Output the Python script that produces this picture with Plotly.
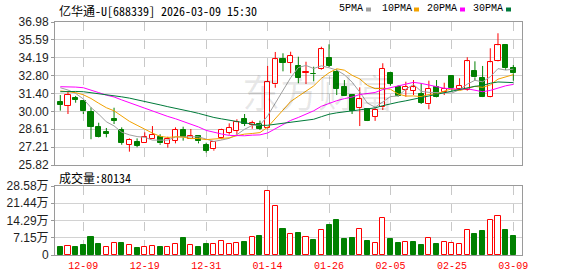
import plotly.graph_objects as go

# ---------------- data ----------------
dates = ["12-04", "12-05", "12-08", "12-09", "12-10", "12-11", "12-12", "12-15", "12-16", "12-17",
         "12-18", "12-19", "12-22", "12-23", "12-24", "12-25", "12-26", "12-29", "12-30", "12-31",
         "01-05", "01-06", "01-07", "01-08", "01-09", "01-12", "01-13", "01-14", "01-15", "01-16",
         "01-19", "01-20", "01-21", "01-22", "01-23", "01-26", "01-27", "01-28", "01-29", "01-30",
         "02-02", "02-03", "02-04", "02-05", "02-06", "02-09", "02-10", "02-11", "02-12", "02-13",
         "02-24", "02-25", "02-26", "02-27", "03-02", "03-03", "03-04", "03-05", "03-06", "03-09"]

opens = [30.76, 30.45, 31.07, 30.82, 29.98, 28.79, 28.42, 29.43, 28.55, 27.40,
         27.62, 27.51, 27.87, 27.98, 27.46, 27.72, 28.55, 27.87, 28.08, 27.36,
         27.05, 27.90, 28.34, 28.50, 29.43, 28.94, 29.04, 28.68, 32.12, 34.07,
         33.80, 33.55, 33.02, 32.95, 33.29, 34.15, 33.10, 31.88, 31.28, 30.25,
         30.17, 29.59, 30.32, 33.02, 31.88, 31.67, 31.62, 31.36, 30.56, 31.93,
         31.52, 32.77, 31.77, 31.67, 33.13, 32.59, 31.10, 33.91, 35.16, 33.37]
highs = [31.28, 31.54, 31.21, 30.89, 30.32, 29.12, 28.71, 30.29, 28.76, 27.90,
         27.90, 28.37, 28.86, 28.22, 28.03, 28.76, 28.81, 28.63, 28.14, 27.56,
         27.67, 28.65, 29.07, 29.39, 29.80, 29.28, 29.28, 33.55, 34.64, 34.54,
         34.66, 34.27, 33.88, 33.49, 35.05, 35.24, 33.29, 32.45, 31.36, 31.88,
         30.25, 30.25, 33.76, 33.10, 32.04, 32.32, 32.45, 32.20, 32.40, 32.45,
         32.24, 32.80, 32.59, 34.23, 33.91, 33.55, 34.93, 36.10, 35.26, 33.62]
lows = [30.06, 29.80, 30.68, 29.80, 27.83, 27.95, 27.98, 29.02, 27.40, 26.86,
        27.20, 27.51, 27.87, 27.40, 27.17, 27.51, 27.72, 27.87, 27.51, 26.78,
        26.94, 27.83, 28.19, 28.19, 28.86, 28.65, 28.55, 28.60, 31.85, 33.13,
        32.98, 32.20, 32.14, 32.35, 33.24, 33.47, 31.28, 31.20, 29.80, 28.86,
        29.25, 29.26, 30.11, 32.01, 31.15, 31.15, 31.28, 30.58, 30.17, 31.10,
        31.28, 31.54, 31.67, 31.62, 32.38, 31.12, 31.08, 33.88, 33.24, 32.40]
closes = [30.50, 31.28, 30.89, 30.00, 28.81, 27.98, 28.26, 29.28, 27.56, 27.77,
          27.33, 27.98, 28.16, 27.51, 27.83, 28.55, 27.98, 28.08, 27.67, 26.94,
          27.62, 28.55, 28.71, 29.15, 29.02, 29.12, 28.65, 32.30, 34.07, 33.80,
          34.33, 32.63, 33.10, 32.90, 34.85, 33.55, 31.75, 31.23, 30.06, 30.95,
          29.28, 30.11, 33.34, 32.14, 31.20, 31.93, 31.88, 30.68, 31.75, 31.15,
          31.75, 31.85, 31.99, 33.91, 32.66, 31.15, 33.83, 35.16, 33.37, 32.98]
# volume in 万 (10k shares)
volumes = [3.31, 3.73, 3.31, 4.14, 7.46, 4.56, 3.17, 4.97, 4.97, 4.00,
           2.90, 3.17, 3.59, 3.17, 3.17, 4.42, 7.04, 4.14, 3.31, 4.56,
           4.56, 5.66, 4.56, 4.83, 5.52, 7.32, 7.87, 26.38, 20.17, 10.77,
           8.70, 9.11, 7.46, 6.21, 10.22, 12.43, 14.50, 6.63, 7.04, 10.63,
           5.80, 4.83, 15.18, 6.63, 4.97, 5.24, 5.38, 4.14, 6.90, 4.56,
           5.24, 4.97, 4.42, 10.22, 8.70, 9.94, 14.36, 16.02, 10.36, 8.01]

ma5 = [31.85, 31.67, 31.41, 30.97, 30.30, 29.79, 29.19, 28.87, 28.38, 28.17,
       28.04, 27.98, 27.76, 27.75, 27.76, 28.01, 28.01, 27.99, 28.02, 27.84,
       27.66, 27.77, 27.90, 28.19, 28.61, 28.91, 28.93, 29.65, 30.63, 31.59,
       32.63, 33.43, 33.59, 33.35, 33.56, 33.41, 33.23, 32.86, 32.29, 31.51,
       30.65, 30.33, 30.75, 31.16, 31.21, 31.74, 32.10, 31.57, 31.49, 31.48,
       31.44, 31.44, 31.70, 32.13, 32.43, 32.31, 32.71, 33.34, 33.23, 33.30]
ma10 = [31.60, 31.56, 31.47, 31.30, 31.01, 30.64, 30.29, 30.05, 29.63, 29.23,
        28.92, 28.59, 28.31, 28.06, 27.97, 28.02, 28.00, 27.88, 27.89, 27.80,
        27.83, 27.89, 27.94, 28.11, 28.23, 28.28, 28.35, 28.77, 29.41, 30.10,
        30.77, 31.18, 31.62, 31.99, 32.58, 33.02, 33.33, 33.22, 32.82, 32.54,
        32.03, 31.78, 31.80, 31.73, 31.36, 31.20, 31.21, 31.16, 31.33, 31.35,
        31.59, 31.77, 31.63, 31.81, 31.96, 31.88, 32.07, 32.52, 32.68, 32.87]
ma20 = [31.93, 31.93, 31.90, 31.85, 31.68, 31.47, 31.27, 31.13, 30.90, 30.68,
        30.45, 30.25, 30.05, 29.82, 29.61, 29.43, 29.22, 29.01, 28.79, 28.52,
        28.37, 28.24, 28.13, 28.09, 28.10, 28.15, 28.17, 28.32, 28.65, 28.95,
        29.30, 29.53, 29.78, 30.05, 30.40, 30.65, 30.84, 31.00, 31.12, 31.32,
        31.40, 31.48, 31.71, 31.86, 31.97, 32.11, 32.27, 32.19, 32.07, 31.94,
        31.81, 31.77, 31.72, 31.77, 31.66, 31.54, 31.64, 31.84, 32.00, 32.11]
ma30 = [31.54, 31.56, 31.56, 31.54, 31.47, 31.38, 31.30, 31.25, 31.14, 31.04,
        30.92, 30.79, 30.66, 30.51, 30.37, 30.26, 30.12, 29.99, 29.85, 29.68,
        29.53, 29.42, 29.31, 29.21, 29.11, 29.02, 28.91, 28.92, 28.99, 29.05,
        29.17, 29.22, 29.29, 29.39, 29.59, 29.78, 29.89, 29.96, 30.04, 30.15,
        30.21, 30.28, 30.45, 30.61, 30.72, 30.83, 30.96, 31.05, 31.19, 31.33,
        31.46, 31.57, 31.68, 31.84, 31.96, 32.03, 32.20, 32.30, 32.28, 32.25]

label_dates = ["12-09", "12-19", "12-31", "01-14", "01-26", "02-05", "02-25", "03-09"]
price_ticks = [25.82, 27.21, 28.61, 30.00, 31.40, 32.80, 34.19, 35.59, 36.98]
price_tick_text = ["25.82", "27.21", "28.61", "30.00", "31.40", "32.80", "34.19", "35.59", "36.98"]
vol_ticks = [0, 7.15, 14.29, 21.44, 28.58]
vol_tick_text = ["0", "7.15万", "14.29万", "21.44万", "28.58万"]
ma_names = ["5PMA", "10PMA", "20PMA", "30PMA"]
title_text = "亿华通-U[688339] 2026-03-09 15:30"
vol_label = "成交量:80134"
watermark = "东方财富"

# ---------------- style ----------------
RED = "#ff0000"
GREEN = "#008000"
MA_COLORS = ["#a0a0a0", "#f2a200", "#ff00ff", "#007a3a"]
W, H = 578, 276
L, R, T, B = 55, 56, 22, 21
PW, PH = W - L - R, H - T - B
MAIN_TOP, MAIN_BOT = 22, 165
VOL_TOP, VOL_BOT = 186, 255

def px_x(px):
    return (px - L) / PW

def px_y(py):
    return (H - B - py) / PH

CJK_MONO = "Noto Sans Mono CJK SC, Noto Sans CJK SC, monospace"
NUM_FONT = "Arial, Liberation Sans, Noto Sans CJK SC"
MONO = "Liberation Mono, DejaVu Sans Mono, monospace"

fig = go.Figure()

# candle wicks (split so they don't cross hollow bodies)
for up in (True, False):
    xs, ys = [], []
    for d, o, h, lo, c in zip(dates, opens, highs, lows, closes):
        if (c >= o) != up:
            continue
        top, bot = max(o, c), min(o, c)
        xs += [d, d, None, d, d, None]
        ys += [h, top, None, bot, lo, None]
    fig.add_trace(go.Scatter(x=xs, y=ys, mode="lines", xaxis="x", yaxis="y",
                             line=dict(color=RED if up else GREEN, width=1),
                             hoverinfo="skip", showlegend=False))

# candle bodies
bases = [min(o, c) for o, c in zip(opens, closes)]
heights = [max(abs(c - o), 0.02) for o, c in zip(opens, closes)]
fills = ["#ffffff" if c >= o else GREEN for o, c in zip(opens, closes)]
edges = [RED if c >= o else GREEN for o, c in zip(opens, closes)]
fig.add_trace(go.Bar(x=dates, y=heights, base=bases, width=0.66, xaxis="x", yaxis="y",
                     marker=dict(color=fills, line=dict(color=edges, width=1)),
                     showlegend=False))

# moving averages
for name, vals, col in zip(ma_names, [ma5, ma10, ma20, ma30], MA_COLORS):
    fig.add_trace(go.Scatter(x=dates, y=vals, mode="lines", name=name, xaxis="x", yaxis="y",
                             line=dict(color=col, width=1), showlegend=False))

# volume
prev = [opens[0]] + closes[:-1]
vol_up = [c >= p for c, p in zip(closes, prev)]
fig.add_trace(go.Bar(x=dates, y=volumes, width=0.66, xaxis="x2", yaxis="y2",
                     marker=dict(color=["#ffffff" if u else GREEN for u in vol_up],
                                 line=dict(color=[RED if u else GREEN for u in vol_up], width=1)),
                     showlegend=False))

axis_common = dict(type="category", categoryorder="array", categoryarray=dates,
                   range=[-0.69, 60.13], tickvals=label_dates, tickangle=0,
                   showgrid=True, gridcolor="#c8c8c8", griddash="dash", gridwidth=1,
                   showline=True, mirror=True, linecolor="#9a9a9a", linewidth=1,
                   zeroline=False, ticks="", automargin=False)

yaxis_common = dict(showgrid=True, gridcolor="#d2d2d2", gridwidth=1, zeroline=False,
                    showline=True, mirror=True, linecolor="#9a9a9a", linewidth=1,
                    ticks="outside", ticklen=3, tickcolor="#9a9a9a", automargin=False,
                    tickfont=dict(family=NUM_FONT, size=12, color="#1e1e1e"))

fig.update_layout(
    width=W, height=H,
    margin=dict(l=L, r=R, t=T, b=B, pad=0, autoexpand=False),
    paper_bgcolor="white", plot_bgcolor="white",
    showlegend=False, bargap=0,
    xaxis=dict(domain=[0, 1], anchor="y", showticklabels=False, matches="x2", **axis_common),
    xaxis2=dict(domain=[0, 1], anchor="y2", showticklabels=True, ticktext=label_dates,
                tickfont=dict(family=MONO, size=10, color=RED), ticklabelstandoff=1,
                **axis_common),
    yaxis=dict(domain=[px_y(MAIN_BOT), px_y(MAIN_TOP)], anchor="x", range=[25.82, 36.98],
               tickvals=price_ticks, ticktext=price_tick_text, **yaxis_common),
    yaxis2=dict(domain=[0, px_y(VOL_TOP)], anchor="x2", range=[0, 28.58],
                tickvals=vol_ticks, ticktext=vol_tick_text, **yaxis_common),
)

annotations = [
    dict(text=title_text, x=px_x(57), y=px_y(10), xref="paper", yref="paper",
         xanchor="left", yanchor="middle", showarrow=False,
         font=dict(family=CJK_MONO, size=12, color="#000000")),
    dict(text=vol_label, x=px_x(57), y=px_y(177), xref="paper", yref="paper",
         xanchor="left", yanchor="middle", showarrow=False,
         font=dict(family=CJK_MONO, size=12, color="#000000")),
    dict(text=watermark, x=px_x(318), y=px_y(90), xref="paper", yref="paper",
         xanchor="center", yanchor="middle", showarrow=False,
         font=dict(family="Noto Sans CJK SC", size=38, color="rgba(0,0,0,0.09)")),
]
legend_text_x = [337, 380, 425, 471]
legend_sq_x = [366, 414, 460, 506]
shapes = []
for name, col, tx, sx in zip(ma_names, MA_COLORS, legend_text_x, legend_sq_x):
    annotations.append(dict(text=name, x=px_x(tx), y=px_y(8.5), xref="paper", yref="paper",
                            xanchor="left", yanchor="middle", showarrow=False,
                            font=dict(family=MONO, size=10, color="#000000")))
    shapes.append(dict(type="rect", xref="paper", yref="paper",
                       x0=px_x(sx), x1=px_x(sx + 5), y0=px_y(11.5), y1=px_y(7.5),
                       fillcolor=col, line=dict(width=0)))
fig.update_layout(annotations=annotations, shapes=shapes)

fig.write_html("out.html")
